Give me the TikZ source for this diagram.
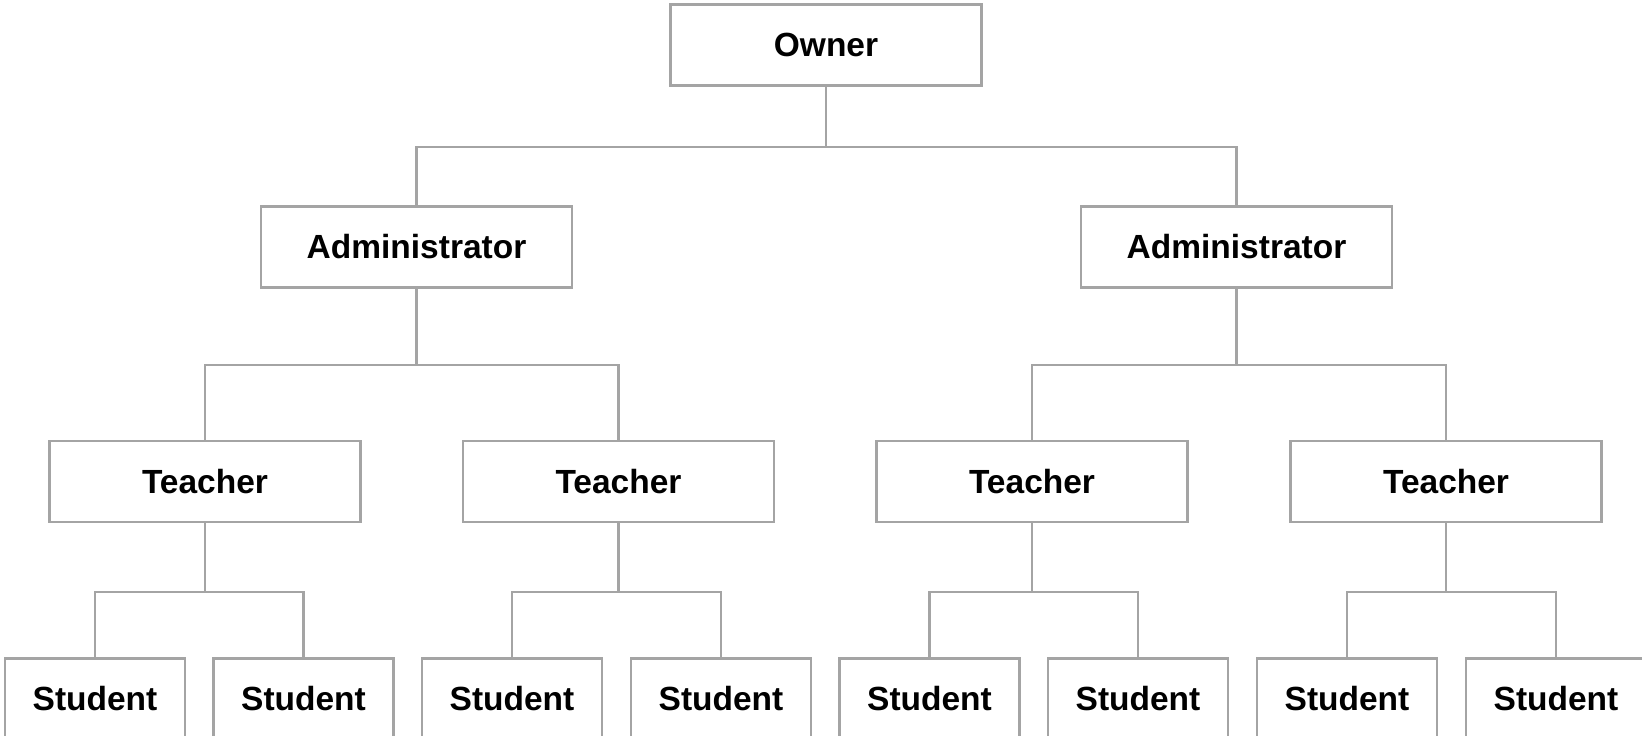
\documentclass[tikz,border=0pt]{standalone}
\usepackage{fontspec}
\setmainfont{Liberation Sans}
\definecolor{linegray}{HTML}{A4A4A4}
\begin{document}
\begin{tikzpicture}[x=1pt,y=-1pt,
  box/.style={draw=linegray,line width=2.1pt,fill=white,inner sep=0pt,
    font=\fontsize{33.5}{40}\selectfont\bfseries},
  bigbox/.style={box,minimum width=311pt,minimum height=81pt},
  studbox/.style={box,minimum width=180pt,minimum height=81pt},
  link/.style={draw=linegray,line width=2.1pt}]
\useasboundingbox (0,0) rectangle (1642,736);
\clip (0,0) rectangle (1642,736);
\fill[white] (0,0) rectangle (1642,736);
\node[bigbox] (own) at (826,45) {Owner};
\node[bigbox] (a1) at (416.5,247) {Administrator};
\node[bigbox] (a2) at (1236.5,247) {Administrator};
\node[bigbox] (t1) at (205,481.5) {Teacher};
\node[bigbox] (t2) at (618.5,481.5) {Teacher};
\node[bigbox] (t3) at (1032,481.5) {Teacher};
\node[bigbox] (t4) at (1446,481.5) {Teacher};
\node[studbox] (s1) at (95,699) {Student};
\node[studbox] (s2) at (303.5,699) {Student};
\node[studbox] (s3) at (512,699) {Student};
\node[studbox] (s4) at (721,699) {Student};
\node[studbox] (s5) at (929.5,699) {Student};
\node[studbox] (s6) at (1138,699) {Student};
\node[studbox] (s7) at (1347,699) {Student};
\node[studbox] (s8) at (1556,699) {Student};
\draw[link] (own.south) -- ++(0,60) -| (a1.north);
\draw[link] (own.south) -- ++(0,60) -| (a2.north);
\draw[link] (a1.south) -- ++(0,76) -| (t1.north);
\draw[link] (a1.south) -- ++(0,76) -| (t2.north);
\draw[link] (a2.south) -- ++(0,76) -| (t3.north);
\draw[link] (a2.south) -- ++(0,76) -| (t4.north);
\draw[link] (t1.south) -- ++(0,69) -| (s1.north);
\draw[link] (t1.south) -- ++(0,69) -| (s2.north);
\draw[link] (t2.south) -- ++(0,69) -| (s3.north);
\draw[link] (t2.south) -- ++(0,69) -| (s4.north);
\draw[link] (t3.south) -- ++(0,69) -| (s5.north);
\draw[link] (t3.south) -- ++(0,69) -| (s6.north);
\draw[link] (t4.south) -- ++(0,69) -| (s7.north);
\draw[link] (t4.south) -- ++(0,69) -| (s8.north);
\end{tikzpicture}
\end{document}
